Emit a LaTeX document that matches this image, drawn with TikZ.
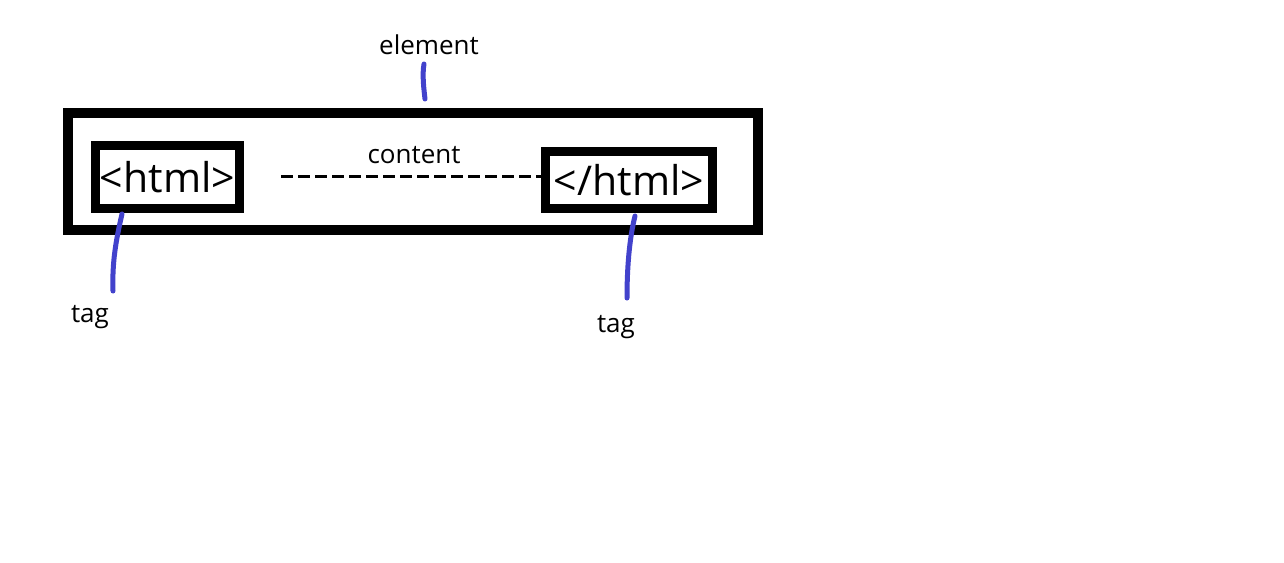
\documentclass[tikz,border=0pt]{standalone}
\usepackage{fontspec}
\setmainfont{Open Sans}
\definecolor{pen}{RGB}{66,66,204}
\begin{document}
\begin{tikzpicture}[x=1pt,y=-1pt,
  boxstyle/.style={draw=black, inner sep=0pt, fill=white},
  tagtext/.style={font=\fontsize{41}{46}\selectfont},
  lbl/.style={font=\fontsize{26}{28}\selectfont, inner sep=0pt},
  penline/.style={draw=pen, line width=5pt, line cap=round}]
\useasboundingbox (0,0) rectangle (1284,562);
\fill[white] (0,0) rectangle (1284,562);
\node[boxstyle, line width=10pt, minimum width=690pt, minimum height=117pt] (elem) at (413,171) {};
\node[boxstyle, line width=9pt, minimum width=144pt, minimum height=63pt, tagtext] (ltag) at (167.5,177) {<html>};
\node[boxstyle, line width=9pt, minimum width=167pt, minimum height=57pt, tagtext] (rtag) at (629,180) {</html>};
\coordinate (dstart) at (281,176);
\draw[line width=3pt, dash pattern=on 12pt off 5pt] (dstart) -- (rtag.west |- dstart);
\node[lbl] (content) at (414,155) {content};
\node[lbl] (element) at (429,45) {element};
\node[lbl] (tag1) at (90,317) {tag};
\node[lbl] (tag2) at (616,327) {tag};
\coordinate (e1) at (424,64);
\coordinate (e2) at (425,99);
\coordinate (l1) at (122,214);
\coordinate (l2) at (113,291);
\coordinate (r1) at (635,216);
\coordinate (r2) at (627,298);
\draw[penline] (e1) .. controls (422,75) and (424,90) .. (e2);
\draw[penline] (l1) .. controls (116,240) and (112,262) .. (l2);
\draw[penline] (r1) .. controls (629,240) and (627,270) .. (r2);
\end{tikzpicture}
\end{document}
